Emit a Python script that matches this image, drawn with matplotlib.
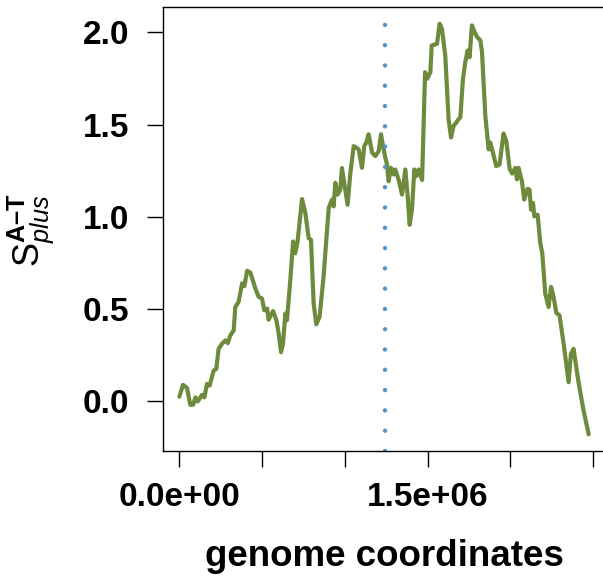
import numpy as np
import matplotlib
matplotlib.use("Agg")
from matplotlib import pyplot as plt

# position le long du génome (Mb) et score cumulé
pos_mb = [0.0, 0.022, 0.046, 0.066, 0.083, 0.097, 0.111, 0.137, 0.151, 0.167,
          0.183, 0.207, 0.223, 0.237, 0.258, 0.278, 0.292, 0.308, 0.328, 0.338,
          0.358, 0.379, 0.393, 0.409, 0.429, 0.459, 0.479, 0.499, 0.513, 0.530,
          0.539, 0.566, 0.586, 0.600, 0.614, 0.626, 0.640, 0.650, 0.670, 0.687,
          0.700, 0.714, 0.741, 0.761, 0.781, 0.795, 0.811, 0.827, 0.847, 0.871,
          0.902, 0.922, 0.932, 0.942, 0.956, 0.972, 0.982, 1.016, 1.033, 1.053,
          1.069, 1.083, 1.103, 1.117, 1.129, 1.143, 1.164, 1.184, 1.204, 1.218,
          1.230, 1.244, 1.254, 1.264, 1.278, 1.294, 1.304, 1.324, 1.345, 1.365,
          1.379, 1.391, 1.405, 1.419, 1.431, 1.445, 1.466, 1.484, 1.496, 1.516,
          1.524, 1.556, 1.572, 1.586, 1.606, 1.626, 1.641, 1.656, 1.673, 1.687,
          1.697, 1.713, 1.727, 1.741, 1.753, 1.767, 1.783, 1.798, 1.818, 1.828,
          1.848, 1.868, 1.878, 1.894, 1.914, 1.934, 1.958, 1.975, 1.995, 2.010,
          2.029, 2.039, 2.049, 2.069, 2.083, 2.103, 2.115, 2.124, 2.136, 2.144,
          2.164, 2.180, 2.192, 2.210, 2.230, 2.245, 2.260, 2.277, 2.296, 2.321,
          2.351, 2.365, 2.381, 2.411, 2.438, 2.472]
score = [0.026, 0.090, 0.073, -0.018, -0.018, 0.022, 0.000, 0.036, 0.022, 0.095,
         0.086, 0.167, 0.176, 0.285, 0.313, 0.331, 0.316, 0.358, 0.385, 0.512,
         0.540, 0.640, 0.625, 0.708, 0.698, 0.612, 0.567, 0.558, 0.494, 0.503,
         0.443, 0.490, 0.440, 0.367, 0.267, 0.313, 0.476, 0.440, 0.658, 0.867,
         0.803, 0.867, 1.097, 1.021, 0.885, 0.876, 0.531, 0.418, 0.458, 0.676,
         1.048, 1.094, 1.057, 1.185, 1.121, 1.148, 1.265, 1.066, 1.239, 1.384,
         1.375, 1.366, 1.266, 1.384, 1.403, 1.448, 1.348, 1.330, 1.357, 1.448,
         1.384, 1.321, 1.285, 1.193, 1.266, 1.230, 1.257, 1.203, 1.121, 1.257,
         1.112, 0.957, 1.039, 1.257, 1.221, 1.257, 1.200, 1.784, 1.748, 1.784,
         1.929, 1.938, 2.047, 2.020, 1.875, 1.530, 1.430, 1.493, 1.512, 1.530,
         1.539, 1.748, 1.839, 1.902, 1.866, 2.038, 2.002, 1.975, 1.957, 1.893,
         1.548, 1.366, 1.403, 1.348, 1.275, 1.284, 1.452, 1.410, 1.260, 1.235,
         1.266, 1.203, 1.266, 1.193, 1.094, 1.152, 1.148, 1.039, 1.076, 1.003,
         1.012, 0.858, 0.803, 0.585, 0.512, 0.621, 0.567, 0.480, 0.467, 0.313,
         0.104, 0.258, 0.285, 0.104, -0.033, -0.178]
ter_mb = 1.244

x = np.array(pos_mb) * 1e6
y = np.array(score)

plt.rcParams['font.family'] = ['Liberation Sans', 'DejaVu Sans']
plt.rcParams['mathtext.fontset'] = 'custom'
plt.rcParams['mathtext.rm'] = 'Liberation Sans'
plt.rcParams['mathtext.it'] = 'Liberation Sans:italic'
plt.rcParams['mathtext.bf'] = 'Liberation Sans:bold'
plt.rcParams['lines.scale_dashes'] = False

fig = plt.figure(figsize=(6.03, 5.79), dpi=100)
ax = fig.add_axes([163 / 603, 1 - 450.7 / 579, 442 / 603, 443.4 / 579])

# limites façon R (4 %)
dx = (x.max() - x.min()) * 0.04
dy = (y.max() - y.min()) * 0.04
ax.set_xlim(x.min() - dx, x.max() + dx)
ax.set_ylim(y.min() - dy, y.max() + dy)

ax.plot(x, y, color="#6E8B3D", lw=3.0, solid_joinstyle='round', solid_capstyle='round')
y0, y1 = ax.get_ylim()
ax.plot([ter_mb * 1e6, ter_mb * 1e6], [y0, y1], color="#4F94CD", lw=3.2,
        linestyle=(0, (0.01, 14.6)), dash_capstyle='round', clip_on=True)

ax.set_xticks([0, 0.5e6, 1e6, 1.5e6, 2e6, 2.5e6])
ax.set_xticklabels(["0.0e+00", "", "", "1.5e+06", "", ""])
ax.set_yticks([0, 0.5, 1.0, 1.5, 2.0])
ax.set_yticklabels(["0.0", "0.5", "1.0", "1.5", "2.0"])
ax.tick_params(axis='both', length=11.5, width=1, labelsize=24)
ax.tick_params(axis='y', pad=13)
ax.tick_params(axis='x', pad=11)
for lab in ax.get_xticklabels() + ax.get_yticklabels():
    lab.set_fontweight('bold')
for sp in ax.spines.values():
    sp.set_linewidth(1)

fig.text(384 / 603, 1 - 557 / 579, "genome coordinates", ha='center', va='center',
         fontsize=26.5, fontweight='bold')
fig.text(31 / 603, 1 - 230 / 579, r'$\mathrm{S}^{\mathbf{A–T}}_{plus}$',
         rotation=90, ha='center', va='center', fontsize=26)

fig.savefig("out.png", dpi=100)
